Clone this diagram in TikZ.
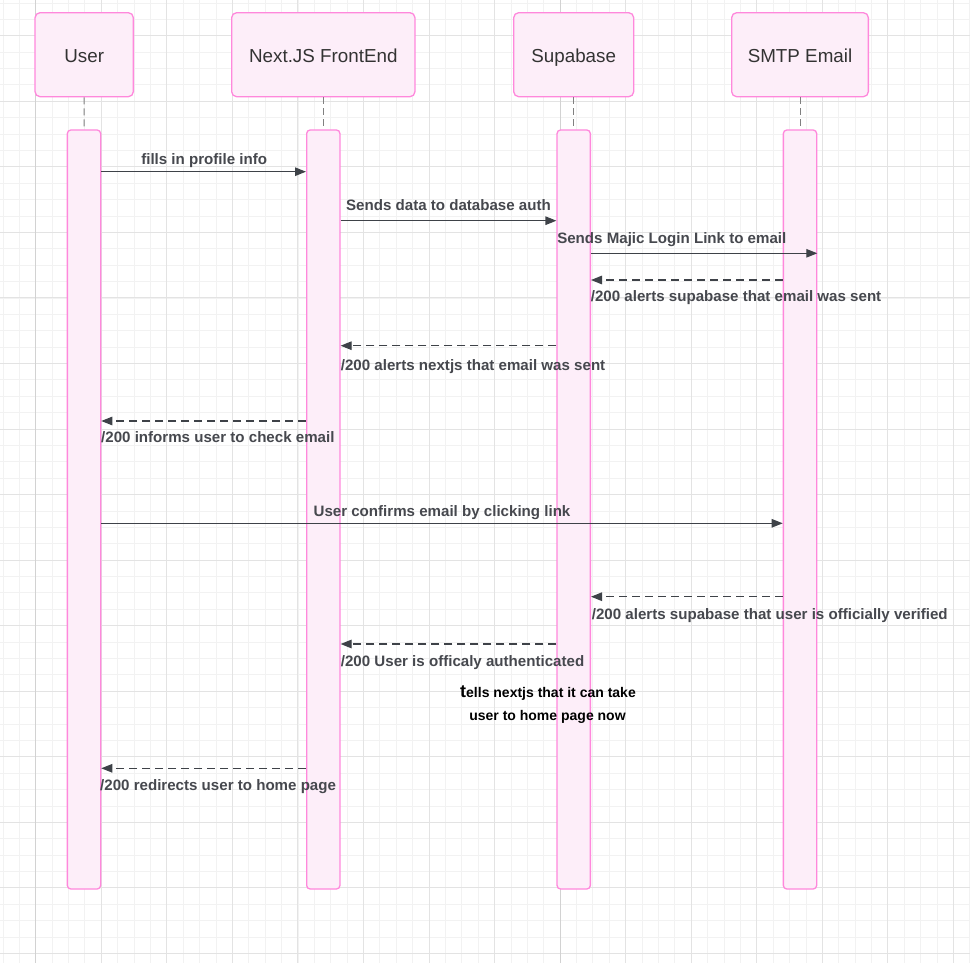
\documentclass[tikz,border=0pt]{standalone}
\usepackage{fontspec}
\setmainfont{Liberation Sans}
\usetikzlibrary{arrows.meta}
\definecolor{pinkbd}{RGB}{255,136,220}
\definecolor{pinkfill}{RGB}{253,238,249}
\definecolor{gridminor}{RGB}{242,242,242}
\definecolor{gridmajor}{RGB}{227,227,227}
\definecolor{griddark}{RGB}{210,210,210}
\definecolor{msgline}{RGB}{62,66,72}
\definecolor{msgtext}{RGB}{70,72,78}
\definecolor{hdrtext}{RGB}{51,51,51}
\begin{document}
\begin{tikzpicture}[x=1pt,y=-1pt,
 actor/.style={draw=pinkbd, fill=pinkfill, line width=1.3pt, rounded corners=5pt, inner sep=0pt, text height=16pt, text depth=0pt, font=\fontsize{18.8}{20}\selectfont, text=hdrtext, minimum height=84pt},
 actbar/.style={draw=pinkbd, fill=pinkfill, line width=1.3pt, rounded corners=3.5pt, inner sep=0pt, minimum width=33.3pt, minimum height=759pt},
 life/.style={draw=gray, line width=1pt, dash pattern=on 7pt off 4pt},
 msg/.style={draw=msgline, line width=1.2pt, -{Triangle[length=11pt,width=8.5pt]}},
 reply/.style={msg, dash pattern=on 8pt off 5pt},
 lbl/.style={font=\fontsize{15.1}{16}\selectfont\bfseries, text=msgtext, inner sep=0pt},
 notetxt/.style={font=\fontsize{14}{16}\selectfont\bfseries, text=black, inner sep=0pt}
]
\useasboundingbox (0,0) rectangle (970,963);
\fill[white] (0,0) rectangle (970,963);
% grid
\foreach \i in {-2,...,57} \draw[gridminor, line width=0.8pt] ({35.7+\i*16.3875},0) -- ++(0,963);
\foreach \i in {-2,...,56} \draw[gridminor, line width=0.8pt] (0,{35.7+\i*16.3875}) -- ++(970,0);
\foreach \i in {0,...,14} \draw[gridmajor, line width=0.9pt] ({35.7+\i*65.55},0) -- ++(0,963);
\foreach \i in {0,...,14} \draw[gridmajor, line width=0.9pt] (0,{35.7+\i*65.55}) -- ++(970,0);
\draw[griddark, line width=1.4pt] (35.7,0) -- ++(0,963);
\draw[griddark, line width=1.1pt] (560.1,0) -- ++(0,963);

% actors
\node[actor, minimum width=98.3pt] (uhead) at (84.2,54.7) {User};
\node[actor, minimum width=183.3pt] (nhead) at (323.3,54.7) {Next.JS FrontEnd};
\node[actor, minimum width=120pt] (shead) at (573.7,54.7) {Supabase};
\node[actor, minimum width=136.7pt] (ehead) at (800,54.7) {SMTP Email};

% activation bars
\node[actbar] (ubar) at (84,509.5) {};
\node[actbar] (nbar) at (323.3,509.5) {};
\node[actbar] (sbar) at (573.7,509.5) {};
\node[actbar] (ebar) at (800,509.5) {};

% lifelines
\draw[life] (uhead.south) -- (ubar.north);
\draw[life] (nhead.south) -- (nbar.north);
\draw[life] (shead.south) -- (sbar.north);
\draw[life] (ehead.south) -- (ebar.north);

% message rows
\coordinate (m1) at (0,171.7);
\coordinate (m2) at (0,220.7);
\coordinate (m3) at (0,253.3);
\coordinate (m4) at (0,280);
\coordinate (m5) at (0,345.7);
\coordinate (m6) at (0,421);
\coordinate (m7) at (0,523.3);
\coordinate (m8) at (0,596.7);
\coordinate (m9) at (0,644);
\coordinate (m10) at (0,768.3);

\draw[msg] (ubar.east |- m1) -- (nbar.west |- m1);
\draw[msg] (nbar.east |- m2) -- (sbar.west |- m2);
\draw[msg] (sbar.east |- m3) -- (ebar.east |- m3);
\draw[reply] (ebar.west |- m4) -- (sbar.east |- m4);
\draw[reply] (sbar.west |- m5) -- (nbar.east |- m5);
\draw[reply] (nbar.west |- m6) -- (ubar.east |- m6);
\draw[msg] (ubar.east |- m7) -- (ebar.west |- m7);
\draw[reply] (ebar.west |- m8) -- (sbar.east |- m8);
\draw[reply] (sbar.west |- m9) -- (nbar.east |- m9);
\draw[reply] (nbar.west |- m10) -- (ubar.east |- m10);

% labels
\node[lbl, anchor=base] (l1) at (204.2,165) {fills in profile info};
\node[lbl, anchor=base] (l2) at (448.5,210.7) {Sends data to database auth};
\node[lbl, anchor=base] (l3) at (671.8,243.3) {Sends Majic Login Link to email};
\node[lbl, anchor=base west] (l4) at (590.7,301.7) {/200 alerts supabase that email was sent};
\node[lbl, anchor=base west] (l5) at (340.7,370) {/200 alerts nextjs that email was sent};
\node[lbl, anchor=base west] (l6) at (101,442.7) {/200 informs user to check email};
\node[lbl, anchor=base] (l7) at (442,516.7) {User confirms email by clicking link};
\node[lbl, anchor=base west] (l8) at (591.7,619) {/200 alerts supabase that user is officially verified};
\node[lbl, anchor=base west] (l9) at (340.7,666) {/200 User is officaly authenticated};
\node[notetxt, anchor=base] (n1) at (548,697.3) {{\fontsize{18}{18}\selectfont t}ells nextjs that it can take};
\node[notetxt, anchor=base] (n2) at (547.5,720) {user to home page now};
\node[lbl, anchor=base west] (l10) at (100,790) {/200 redirects user to home page};
\end{tikzpicture}
\end{document}
